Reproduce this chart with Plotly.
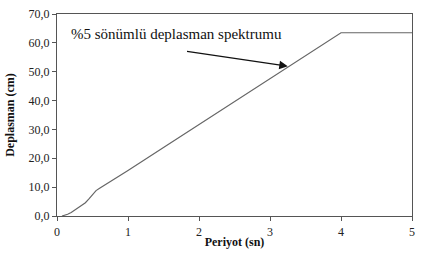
import plotly.graph_objects as go

periyot = [0.07, 0.1, 0.15, 0.2, 0.25, 0.3, 0.35, 0.4, 0.45, 0.5, 0.55, 0.6,
           0.8, 1.0, 1.5, 2.0, 2.5, 3.0, 3.5, 4.0, 5.0]
deplasman = [0.0, 0.2, 0.6, 1.2, 2.0, 2.8, 3.6, 4.6, 5.9, 7.4, 8.8, 9.6,
             12.6, 15.8, 23.7, 31.7, 39.6, 47.6, 55.5, 63.5, 63.5]

x_ticks = [0, 1, 2, 3, 4, 5]
y_ticks = [0, 10, 20, 30, 40, 50, 60, 70]

label_text = "%5 sönümlü deplasman spektrumu"
x_title = "Periyot (sn)"
y_title = "Deplasman (cm)"

FONT = "Liberation Serif"

fig = go.Figure()
fig.add_trace(go.Scatter(x=periyot, y=deplasman, mode="lines",
                         line=dict(color="#666666", width=1.2),
                         hoverinfo="skip", showlegend=False))

fig.add_annotation(x=3.25, y=51.9, ax=1.81, ay=57.1,
                   xref="x", yref="y", axref="x", ayref="y",
                   text="", showarrow=True, arrowhead=2, arrowsize=1.3,
                   arrowwidth=1.3, arrowcolor="#111111")
fig.add_annotation(x=0.17, y=62.9, xref="x", yref="y", xanchor="left",
                   yanchor="middle", text=label_text, showarrow=False,
                   font=dict(family=FONT, size=15, color="#111111"))

fig.update_layout(
    width=422, height=256,
    margin=dict(l=57, r=7, t=10, b=40),
    paper_bgcolor="white", plot_bgcolor="white",
    separators=", ",
    font=dict(family=FONT, size=12, color="#222222"),
    xaxis=dict(range=[0, 5], tickvals=x_ticks, ticks="outside", ticklen=4,
               tickcolor="#555555", showline=True, linecolor="#555555",
               linewidth=1.2, mirror=True, showgrid=False, zeroline=False,
               tickfont=dict(family=FONT, size=12, color="#222222"),
               title=dict(text="<b>" + x_title + "</b>", standoff=0,
                          font=dict(family=FONT, size=12, color="#111111"))),
    yaxis=dict(range=[0, 70], tickvals=y_ticks, tickformat=".1f",
               ticks="outside", ticklen=4, tickcolor="#555555",
               showline=True, linecolor="#555555", linewidth=1.2, mirror=True,
               showgrid=False, zeroline=False,
               tickfont=dict(family=FONT, size=12, color="#222222"),
               title=dict(text="<b>" + y_title + "</b>", standoff=11,
                          font=dict(family=FONT, size=12, color="#111111"))),
)

fig.write_html("out.html")
